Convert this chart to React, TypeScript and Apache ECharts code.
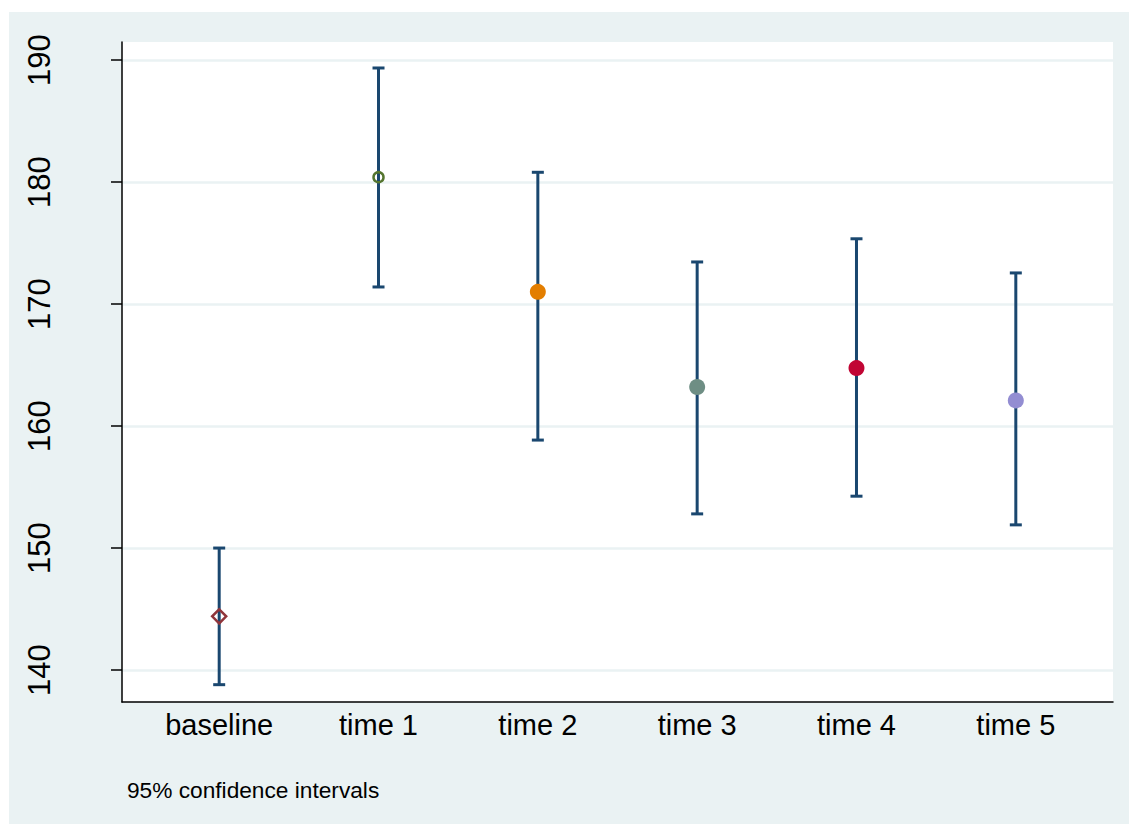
import React, { useEffect, useRef } from "react";
import * as echarts from "echarts";

const categories = ["baseline", "time 1", "time 2", "time 3", "time 4", "time 5"];
const means = [144.4, 180.4, 171.0, 163.2, 164.75, 162.1];
const lowers = [138.8, 171.4, 158.85, 152.8, 154.25, 151.9];
const uppers = [150.0, 189.35, 180.8, 173.45, 175.35, 172.55];
const yTicks = [140, 150, 160, 170, 180, 190];
const note = "95% confidence intervals";

const markerStyles = [
  { symbol: "diamond", size: 14, color: "#90353b", hollow: true },
  { symbol: "circle", size: 10, color: "#55752f", hollow: true },
  { symbol: "circle", size: 16, color: "#e37e00", hollow: false },
  { symbol: "circle", size: 16, color: "#6e8e84", hollow: false },
  { symbol: "circle", size: 16, color: "#c10534", hollow: false },
  { symbol: "circle", size: 16, color: "#938dd2", hollow: false },
];

export default function App() {
  const ref = useRef<HTMLDivElement>(null);
  useEffect(() => {
    if (!ref.current) return;
    const chart = echarts.init(ref.current, null, { renderer: "svg" });
    const xIdx = categories.map((_, i) => i);
    const barData = categories.map((_, i) => [i, lowers[i], uppers[i]]);
    const pointData = categories.map((_, i) => {
      const m = markerStyles[i];
      return {
        value: [i, means[i]],
        symbol: m.symbol,
        symbolSize: m.size,
        itemStyle: m.hollow
          ? { color: "rgba(0,0,0,0)", borderColor: m.color, borderWidth: 2.5, opacity: 1 }
          : { color: m.color, borderWidth: 0, opacity: 1 },
      };
    });
    const barColor = "#1a476f";
    chart.setOption({
      animation: false,
      backgroundColor: "transparent",
      textStyle: { fontFamily: "Liberation Sans, Arial, sans-serif" },
      graphic: [
        {
          type: "rect",
          z: -10,
          silent: true,
          shape: { x: 9, y: 12, width: 1120, height: 812 },
          style: { fill: "#eaf2f3" },
        },
        {
          type: "text",
          left: 127,
          top: 778,
          style: {
            text: note,
            fill: "#000",
            font: "22.7px Liberation Sans, Arial, sans-serif",
          },
        },
      ],
      grid: {
        left: 122,
        top: 42,
        width: 991,
        height: 660,
        show: true,
        backgroundColor: "#ffffff",
        borderWidth: 0,
        containLabel: false,
      },
      xAxis: {
        type: "value",
        min: -0.61,
        max: 5.61,
        axisLine: { show: true, onZero: false, lineStyle: { color: "#000", width: 1.5 } },
        axisTick: { show: false, customValues: xIdx },
        splitLine: { show: false },
        axisLabel: {
          customValues: xIdx,
          formatter: (v: number) => categories[Math.round(v)] ?? "",
          color: "#000",
          fontSize: 29,
          margin: 8,
          fontFamily: "Liberation Sans, Arial, sans-serif",
        },
      },
      yAxis: {
        type: "value",
        min: 137.38,
        max: 191.48,
        axisLine: { show: true, onZero: false, lineStyle: { color: "#000", width: 1.5 } },
        axisTick: {
          show: true,
          customValues: yTicks,
          length: 11,
          lineStyle: { color: "#000", width: 1.5 },
        },
        splitLine: { show: true, lineStyle: { color: "#eaf2f3", width: 2.5 } },
        axisLabel: {
          customValues: yTicks,
          rotate: 90,
          color: "#000",
          fontSize: 31,
          margin: 67,
          fontFamily: "Liberation Sans, Arial, sans-serif",
        },
      },
      series: [
        {
          type: "custom",
          data: barData,
          z: 2,
          renderItem: (params: any, api: any) => {
            const x = api.value(0);
            const lo = api.coord([x, api.value(1)]);
            const hi = api.coord([x, api.value(2)]);
            const hw = 6;
            const st = { stroke: barColor, lineWidth: 3 };
            return {
              type: "group",
              children: [
                { type: "line", shape: { x1: lo[0], y1: lo[1], x2: hi[0], y2: hi[1] }, style: st },
                { type: "line", shape: { x1: lo[0] - hw, y1: lo[1], x2: lo[0] + hw, y2: lo[1] }, style: st },
                { type: "line", shape: { x1: hi[0] - hw, y1: hi[1], x2: hi[0] + hw, y2: hi[1] }, style: st },
              ],
            };
          },
        },
        {
          type: "scatter",
          z: 3,
          data: pointData,
        },
      ],
    });
    return () => chart.dispose();
  }, []);
  return (
    <div style={{ position: "absolute", left: 0, top: 0, width: 1129, height: 828 }}>
      <div ref={ref} style={{ width: 1129, height: 828 }} />
    </div>
  );
}
